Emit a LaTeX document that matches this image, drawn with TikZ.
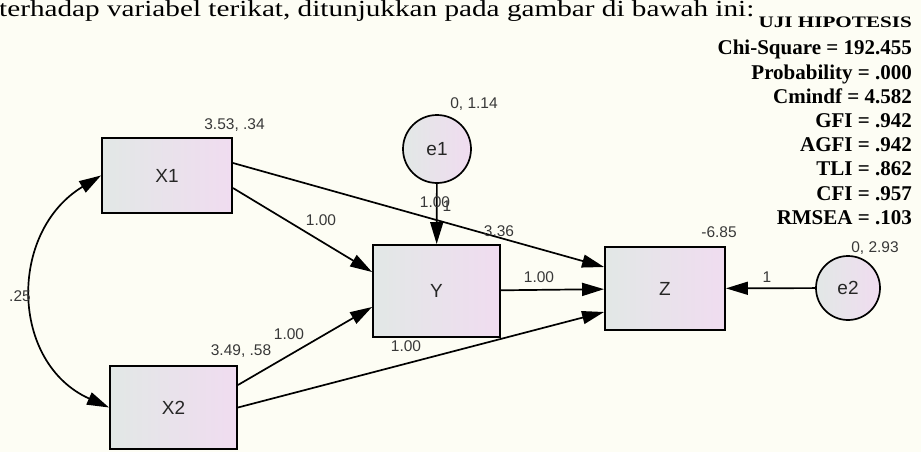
\documentclass[tikz,border=0pt]{standalone}
\usepackage{graphicx}
\usepackage{fontspec}
\setmainfont{Liberation Serif}
\newfontfamily\amosfont{Liberation Sans}
\usetikzlibrary{arrows.meta,shapes.geometric}
\definecolor{semcream}{HTML}{FDFDF4}
\definecolor{semgrey}{HTML}{E2E8E6}
\definecolor{sempink}{HTML}{F0DCF0}
\definecolor{semtext}{HTML}{383838}
\tikzset{
    obs/.style={draw,line width=1.9pt,left color=semgrey,right color=sempink,inner sep=0pt,
        font=\amosfont\fontsize{19}{21}\selectfont,text=black!85},
    err/.style={circle,draw,line width=1.7pt,left color=semgrey,right color=sempink,inner sep=0pt,
        font=\amosfont\fontsize{19}{21}\selectfont,text=black!85},
    reg/.style={draw,line width=1.7pt,-{Triangle[length=22pt,width=13pt]}},
    cov/.style={draw,line width=1.7pt,{Triangle[length=22pt,width=13pt]}-{Triangle[length=22pt,width=13pt]}},
    est/.style={font=\amosfont\fontsize{15.5}{17}\selectfont,text=semtext,inner sep=0pt},
    fitidx/.style={font=\bfseries\fontsize{21}{24}\selectfont,anchor=base east,inner sep=0pt},
}

\begin{document}
\begin{tikzpicture}[x=1pt,y=-1pt]
    \useasboundingbox[fill=semcream] (0,0) rectangle (921,452);

    % sentence and fit indices
    \node[anchor=base west,inner sep=0pt,font=\fontsize{23}{26}\selectfont] (intro) at (-1,17)
        {\scalebox{1.27}[1]{terhadap variabel terikat, ditunjukkan pada gambar di bawah ini:}};
    \node[anchor=base east,inner sep=0pt,font=\bfseries\fontsize{16}{18}\selectfont] (uji) at (912,28)
        {\scalebox{1.32}[1]{UJI HIPOTESIS}};
    \foreach \txt/\yy in {Chi-Square = 192.455/55,Probability = .000/79,Cmindf = 4.582/103,
        GFI = .942/127.5,AGFI = .942/151.5,TLI = .862/175.5,CFI = .957/200,RMSEA = .103/224}
        \node[fitidx] at (912,\yy) {\txt};

    % variables
    \node[obs,minimum width=130pt,minimum height=75pt] (x1) at (167,175.5) {X1};
    \node[obs,minimum width=127pt,minimum height=83pt] (x2) at (173.5,407.5) {X2};
    \node[obs,minimum width=127pt,minimum height=92pt] (y) at (436.5,291) {Y};
    \node[obs,minimum width=120pt,minimum height=83pt] (z) at (665,288.5) {Z};
    \node[err,minimum size=68pt] (e1) at (437,149) {e1};
    \node[err,minimum size=64pt] (e2) at (848,288) {e2};

    % paths
    \draw[reg] ([yshift=-12.5pt]x1.east) -- ([yshift=19pt]y.west);
    \draw[reg] ([yshift=12.5pt]x1.east) -- ([yshift=21.5pt]z.west);
    \draw[reg] ([yshift=22.5pt]x2.east) -- ([yshift=-16pt]y.west);
    \draw[reg] (x2.east) -- ([yshift=-23.5pt]z.west);
    \draw[reg] (y) -- (z);
    \draw[reg] (e1) -- (y);
    \draw[reg] (e2) -- (z);
    \draw[cov] (x1.west) .. controls (8,232) and (10,363) .. (x2.west);

    % estimates
    \node[est] (vx1) at (234.5,125) {3.53, .34};
    \node[est] (vx2) at (241,351) {3.49, .58};
    \node[est] (ve1) at (474,104) {0, 1.14};
    \node[est] (ve2) at (875,248) {0, 2.93};
    \node[est] (iz) at (719,232) {-6.85};
    \node[est] (cx) at (20,296) {.25};
    \node[est] (bx1y) at (321,220) {1.00};
    \node[est] (bx1z) at (499,231) {3.36};
    \node[est] (bx2y) at (289,334) {1.00};
    \node[est] (bx2z) at (406,346) {1.00};
    \node[est] (byz) at (539,277) {1.00};
    \node[est] (be1) at (435,202) {1.00};
    \node[est] (be1b) at (447,206) {1};
    \node[est] (be2) at (767,277) {1};
\end{tikzpicture}
\end{document}
